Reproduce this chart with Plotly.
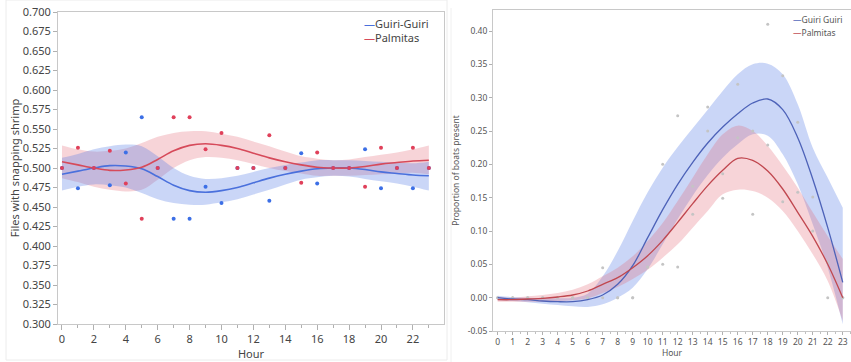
import plotly.graph_objects as go

hours = list(range(24))

# ---- Left panel: files with snapping shrimp ----
left_guiri_pts = [0.5, 0.474, 0.5, 0.478, 0.52, 0.565, 0.5, 0.435, 0.435, 0.476, 0.455, 0.5,
                  0.5, 0.458, 0.5, 0.519, 0.48, 0.5, 0.5, 0.524, 0.474, 0.5, 0.474, 0.5]
left_palm_pts = [0.5, 0.526, 0.5, 0.522, 0.48, 0.435, 0.5, 0.565, 0.565, 0.524, 0.545, 0.5,
                 0.5, 0.542, 0.5, 0.481, 0.52, 0.5, 0.5, 0.476, 0.526, 0.5, 0.526, 0.5]
left_guiri_fit = [0.492, 0.496, 0.500, 0.503, 0.5025, 0.499, 0.489, 0.478, 0.471, 0.469, 0.471, 0.475,
                  0.481, 0.487, 0.492, 0.496, 0.499, 0.500, 0.500, 0.498, 0.495, 0.493, 0.491, 0.490]
left_guiri_lo = [0.471, 0.476, 0.479, 0.478, 0.475, 0.468, 0.460, 0.455, 0.453, 0.453, 0.456, 0.460,
                 0.466, 0.472, 0.479, 0.485, 0.488, 0.490, 0.489, 0.486, 0.483, 0.480, 0.476, 0.471]
left_guiri_hi = [0.513, 0.518, 0.524, 0.528, 0.530, 0.528, 0.515, 0.500, 0.490, 0.486, 0.487, 0.490,
                 0.495, 0.500, 0.504, 0.507, 0.510, 0.510, 0.510, 0.509, 0.508, 0.507, 0.506, 0.508]
left_palm_fit = [0.508, 0.504, 0.500, 0.497, 0.4975, 0.501, 0.511, 0.522, 0.529, 0.531, 0.529, 0.525,
                 0.519, 0.513, 0.508, 0.504, 0.501, 0.500, 0.500, 0.502, 0.505, 0.507, 0.509, 0.510]
left_palm_lo = [0.487, 0.482, 0.476, 0.472, 0.470, 0.472, 0.485, 0.500, 0.510, 0.514, 0.513, 0.510,
                0.505, 0.500, 0.496, 0.493, 0.490, 0.490, 0.490, 0.491, 0.492, 0.493, 0.494, 0.492]
left_palm_hi = [0.529, 0.524, 0.521, 0.522, 0.525, 0.532, 0.540, 0.545, 0.547, 0.547, 0.544, 0.540,
                0.534, 0.528, 0.521, 0.515, 0.512, 0.510, 0.511, 0.514, 0.517, 0.520, 0.524, 0.529]

# ---- Right panel: proportion of boats present ----
right_guiri_pts = [0, 0, 0, 0, 0, 0, 0, 0, 0, 0, 0.046, 0.2, 0.273, 0.167, 0.286, 0.186,
                   0.32, 0.25, 0.41, 0.333, 0.263, 0.151, 0.053, 0.0]
right_palm_pts = [0, 0, 0, 0, 0, 0, 0, 0.045, 0, 0, 0.046, 0.05, 0.046, 0.125, 0.25, 0.149,
                  0.24, 0.125, 0.229, 0.144, 0.158, 0.1, 0.0, 0.0]
right_guiri_fit = [0.0, -0.002, -0.003, -0.005, -0.006, -0.006, -0.003, 0.004, 0.02, 0.048, 0.09, 0.132,
                   0.17, 0.203, 0.232, 0.256, 0.276, 0.292, 0.298, 0.282, 0.24, 0.178, 0.105, 0.023]
right_guiri_lo = [-0.004, -0.005, -0.007, -0.009, -0.011, -0.013, -0.014, -0.01, 0.0, 0.015, 0.043, 0.08,
                  0.118, 0.153, 0.184, 0.21, 0.23, 0.245, 0.243, 0.215, 0.17, 0.11, 0.045, -0.04]
right_guiri_hi = [0.003, 0.001, 0.0, -0.001, -0.001, 0.0, 0.006, 0.032, 0.07, 0.115, 0.158, 0.195,
                  0.226, 0.254, 0.282, 0.31, 0.335, 0.35, 0.351, 0.335, 0.29, 0.225, 0.18, 0.135]
right_palm_fit = [-0.003, -0.003, -0.002, -0.001, 0.001, 0.004, 0.01, 0.02, 0.03, 0.045, 0.063, 0.086,
                  0.113, 0.141, 0.168, 0.191, 0.209, 0.206, 0.19, 0.163, 0.128, 0.092, 0.05, 0.0]
right_palm_lo = [-0.006, -0.006, -0.006, -0.006, -0.005, -0.004, -0.001, 0.007, 0.016, 0.028, 0.042, 0.06,
                 0.08, 0.105, 0.13, 0.155, 0.162, 0.16, 0.15, 0.13, 0.1, 0.065, 0.025, -0.035]
right_palm_hi = [0.001, 0.0, 0.002, 0.004, 0.007, 0.012, 0.02, 0.032, 0.045, 0.062, 0.085, 0.112,
                 0.145, 0.18, 0.215, 0.245, 0.258, 0.25, 0.228, 0.198, 0.165, 0.128, 0.092, 0.058]

left_yticks = [round(0.3 + 0.025 * i, 3) for i in range(17)]
right_yticks = [-0.05, 0.0, 0.05, 0.10, 0.15, 0.20, 0.25, 0.30, 0.35, 0.40]

FONT = "Noto Sans"
L_BLUE, L_RED = "#4a70dc", "#d64a5a"
R_BLUE, R_RED = "#4d62b8", "#c0474f"
BLUE_FILL = "rgba(80,120,228,0.30)"
RED_FILL = "rgba(228,100,115,0.28)"

fig = go.Figure()


def band(x, lo, hi, fill, xa, ya):
    fig.add_trace(go.Scatter(x=x, y=lo, mode="lines", line=dict(width=0, shape="spline"),
                             hoverinfo="skip", showlegend=False, xaxis=xa, yaxis=ya))
    fig.add_trace(go.Scatter(x=x, y=hi, mode="lines", line=dict(width=0, shape="spline"),
                             fill="tonexty", fillcolor=fill, hoverinfo="skip",
                             showlegend=False, xaxis=xa, yaxis=ya))


# left panel
band(hours, left_palm_lo, left_palm_hi, RED_FILL, "x", "y")
band(hours, left_guiri_lo, left_guiri_hi, BLUE_FILL, "x", "y")
fig.add_trace(go.Scatter(x=hours, y=left_guiri_fit, mode="lines", name="Guiri-Guiri",
                         line=dict(color=L_BLUE, width=1.6, shape="spline"), showlegend=False))
fig.add_trace(go.Scatter(x=hours, y=left_palm_fit, mode="lines", name="Palmitas",
                         line=dict(color=L_RED, width=1.6, shape="spline"), showlegend=False))
fig.add_trace(go.Scatter(x=hours, y=left_guiri_pts, mode="markers",
                         marker=dict(color="#3c6fe6", size=4), showlegend=False))
fig.add_trace(go.Scatter(x=hours, y=left_palm_pts, mode="markers",
                         marker=dict(color="#e0405a", size=4), showlegend=False))

# right panel
band(hours, right_guiri_lo, right_guiri_hi, BLUE_FILL, "x2", "y2")
band(hours, right_palm_lo, right_palm_hi, RED_FILL, "x2", "y2")
fig.add_trace(go.Scatter(x=hours, y=right_guiri_pts, mode="markers",
                         marker=dict(color="#c4c4c4", size=3), showlegend=False,
                         xaxis="x2", yaxis="y2"))
fig.add_trace(go.Scatter(x=hours, y=right_palm_pts, mode="markers",
                         marker=dict(color="#c4c4c4", size=3), showlegend=False,
                         xaxis="x2", yaxis="y2"))
fig.add_trace(go.Scatter(x=hours, y=right_guiri_fit, mode="lines", name="Guiri Guiri",
                         line=dict(color=R_BLUE, width=1.3, shape="spline"), showlegend=False,
                         xaxis="x2", yaxis="y2"))
fig.add_trace(go.Scatter(x=hours, y=right_palm_fit, mode="lines", name="Palmitas",
                         line=dict(color=R_RED, width=1.3, shape="spline"), showlegend=False,
                         xaxis="x2", yaxis="y2"))

axis_common = dict(showgrid=False, zeroline=False, showline=True, linecolor="#c8c8c8",
                   linewidth=1, mirror=True, ticks="outside", tickcolor="#b0b0b0",
                   automargin=False)

fig.update_layout(
    width=851, height=362,
    margin=dict(l=0, r=0, t=0, b=0, autoexpand=False),
    paper_bgcolor="white", plot_bgcolor="white",
    font=dict(family=FONT, color="#444444"),
    showlegend=False,
    xaxis=dict(domain=[58 / 851, 444 / 851], range=[-0.25, 23.95], tickmode="array",
               tickvals=list(range(0, 24, 2)), ticklen=5,
               minor=dict(dtick=1, ticklen=3, tickcolor="#b0b0b0", ticks="outside"),
               tickfont=dict(size=11, color="#444"),
               title=dict(text="Hour", font=dict(size=11, color="#444"), standoff=2),
               anchor="y", **axis_common),
    yaxis=dict(domain=[1 - 324 / 362, 1 - 12 / 362], range=[0.3, 0.7], tickmode="array",
               tickvals=left_yticks, ticktext=[f"{v:.3f}" for v in left_yticks], ticklen=4,
               tickfont=dict(size=11, color="#444"),
               title=dict(text="Files with snapping shrimp", font=dict(size=11, color="#444"),
                          standoff=0),
               anchor="x", **axis_common),
    xaxis2=dict(domain=[493 / 851, 1.0], range=[-0.31, 23.55], tickmode="array",
                tickvals=hours, ticklen=3,
                minor=dict(dtick=0.5, ticklen=2, tickcolor="#c0c0c0", ticks="outside"),
                tickfont=dict(size=8.5, color="#555"),
                title=dict(text="Hour", font=dict(size=8.5, color="#555"), standoff=3),
                anchor="y2", **axis_common),
    yaxis2=dict(domain=[1 - 331 / 362, 1 - 10 / 362], range=[-0.05, 0.4315], tickmode="array",
                tickvals=right_yticks, ticktext=[f"{v:.2f}" for v in right_yticks], ticklen=3,
                tickfont=dict(size=8.5, color="#555"),
                title=dict(text="Proportion of boats present", font=dict(size=8.5, color="#555"),
                           standoff=6),
                anchor="x2", **axis_common),
)

# legends (drawn as text keys)
fig.add_annotation(xref="paper", yref="paper", x=362 / 851, y=1 - 23 / 362, xanchor="left",
                   yanchor="middle", showarrow=False, align="left",
                   text=f"<span style='color:{L_BLUE}'>—</span>Guiri-Guiri",
                   font=dict(size=11, color="#444", family=FONT))
fig.add_annotation(xref="paper", yref="paper", x=362 / 851, y=1 - 38 / 362, xanchor="left",
                   yanchor="middle", showarrow=False, align="left",
                   text=f"<span style='color:{L_RED}'>—</span>Palmitas",
                   font=dict(size=11, color="#444", family=FONT))
fig.add_annotation(xref="paper", yref="paper", x=791 / 851, y=1 - 19 / 362, xanchor="left",
                   yanchor="middle", showarrow=False, align="left",
                   text=f"<span style='color:{R_BLUE}'>—</span>Guiri Guiri",
                   font=dict(size=8.5, color="#555", family=FONT))
fig.add_annotation(xref="paper", yref="paper", x=791 / 851, y=1 - 32.7 / 362, xanchor="left",
                   yanchor="middle", showarrow=False, align="left",
                   text=f"<span style='color:{R_RED}'>—</span>Palmitas",
                   font=dict(size=8.5, color="#555", family=FONT))

# faint panel frames of the two screenshots
fig.add_shape(type="rect", xref="paper", yref="paper", x0=6 / 851, x1=447 / 851,
              y0=1 - 360 / 362, y1=1.0, line=dict(color="#ececec", width=1), layer="below")
fig.add_shape(type="line", xref="paper", yref="paper", x0=451 / 851, x1=451 / 851,
              y0=0, y1=1 - 8 / 362, line=dict(color="#f0f0f0", width=1), layer="below")

fig.write_html(
    "out.html",
    config={"displayModeBar": False},
    post_script="document.body.style.margin='0';document.body.style.padding='0';"
                "document.body.style.overflow='hidden';",
)
